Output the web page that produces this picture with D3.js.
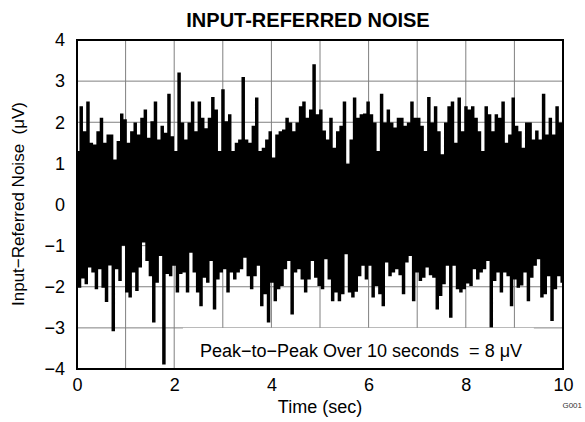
<!DOCTYPE html>
<head>
  <meta charset="utf-8">
  <script src="https://unpkg.com/d3@7/dist/d3.min.js"></script>
  <style>
    body {
      margin:0;
      background:#fff;
    }
    text {
      font-family: "Liberation Sans", Arial, sans-serif;
    }
  </style>
</head>

<body>
  <svg width="585" height="422"></svg>
  <script>
    // upper peaks of the noise trace in order (uV)
    var hiPeaks = [
      1.28, 2.37, 1.76, 2.48, 1.48, 1.44, 1.76, 2.09, 1.48, 1.68, 1.68, 1.07, 1.52, 2.19, 2.05, 1.48,
      1.76, 1.97, 1.68, 2.09, 2.29, 1.60, 2.0, 2.48, 1.56, 1.89, 1.72, 2.67, 1.64, 1.28, 3.19, 1.97,
      1.56, 1.97, 2.48, 1.76, 2.48, 2.09, 1.83, 2.09, 2.59, 2.29, 1.28, 2.78, 2.0, 2.17, 1.28, 1.48,
      1.56, 3.08, 1.56, 1.48, 1.89, 2.58, 1.28, 1.36, 1.56, 1.76, 1.12, 1.68, 1.76, 1.80, 2.09, 1.97,
      1.76, 1.97, 2.37, 2.48, 2.09, 2.29, 3.39, 2.17, 2.29, 1.78, 1.56, 2.09, 1.36, 1.76, 1.89, 2.48,
      0.96, 1.56, 2.58, 2.09, 2.17, 2.19, 2.48, 2.17, 1.97, 1.28, 2.67, 1.97, 2.29, 1.97, 1.85, 2.09,
      2.09, 1.89, 1.97, 2.48, 2.09, 2.09, 1.89, 1.28, 2.59, 1.97, 2.37, 1.76, 1.20, 1.97, 2.37, 2.48,
      1.48, 2.58, 1.76, 2.37, 2.29, 2.37, 2.09, 1.76, 1.28, 2.37, 2.17, 1.76, 2.17, 2.09, 2.48, 1.48,
      1.68, 2.58, 1.89, 1.76, 1.36, 1.97, 1.97, 1.56, 1.78, 1.56, 2.67, 1.68, 2.09, 1.68, 2.37, 1.97
    ];
    // lower peaks, same spacing, half a step later
    var loPeaks = [
      -2.0, -1.78, -1.92, -1.51, -1.63, -2.04, -1.55, -2.0, -2.35, -1.46, -3.06, -1.55, -1.84, -0.98, -2.12, -2.24,
      -1.63, -2.08, -1.51, -0.9, -1.35, -1.72, -2.85, -1.88, -1.23, -3.87, -1.67, -1.72, -1.47, -2.12, -1.67, -1.63,
      -2.12, -1.15, -1.63, -2.12, -2.45, -1.76, -1.88, -1.35, -2.53, -1.80, -1.63, -1.55, -2.12, -1.63, -1.80, -1.63,
      -1.55, -1.27, -1.72, -2.04, -1.72, -1.47, -2.45, -2.16, -2.85, -1.88, -2.33, -2.04, -1.96, -1.55, -1.35, -2.65,
      -1.63, -1.55, -1.80, -2.12, -1.80, -1.35, -1.76, -1.96, -2.04, -1.31, -1.80, -2.33, -2.12, -2.33, -2.16, -1.19,
      -2.12, -2.24, -2.10, -1.72, -1.47, -1.80, -1.47, -2.24, -1.96, -2.16, -2.45, -1.39, -1.72, -1.63, -1.55, -1.70,
      -2.16, -1.39, -1.23, -2.33, -1.63, -1.84, -1.76, -1.51, -1.70, -1.76, -2.53, -2.20, -1.92, -1.47, -2.73, -1.47,
      -2.04, -2.12, -2.04, -1.90, -1.96, -1.55, -1.80, -1.63, -1.55, -1.35, -2.97, -1.84, -1.63, -2.12, -1.63, -1.72,
      -2.45, -1.80, -2.0, -1.95, -1.63, -2.33, -1.76, -1.47, -1.31, -2.24, -2.16, -1.72, -2.81, -2.04, -1.72, -1.88
    ];
    var xTicks = [0, 2, 4, 6, 8, 10];
    var xGrid = [1, 2, 3, 4, 5, 6, 7, 8, 9];
    var yTicks = [-4, -3, -2, -1, 0, 1, 2, 3, 4];
    var note = "Peak\u2212to\u2212Peak Over 10 seconds  = 8 \u03bcV";

    var svg = d3.select("svg");
    var x = d3.scaleLinear().domain([0, 10]).range([77, 563]);
    var y = d3.scaleLinear().domain([-4, 4]).range([369, 40]);

    // gridlines
    svg.selectAll(".vgrid").data(xGrid).enter().append("line")
      .attr("x1", x).attr("x2", x)
      .attr("y1", y(-4)).attr("y2", y(4))
      .attr("stroke", "#808080").attr("stroke-width", 1);
    svg.selectAll(".hgrid").data(yTicks.slice(1, -1)).enter().append("line")
      .attr("x1", x(0)).attr("x2", x(10))
      .attr("y1", y).attr("y2", y)
      .attr("stroke", "#808080").attr("stroke-width", 1);

    // noise trace: alternate upper and lower peaks
    var step = 10 / hiPeaks.length;
    var trace = [];
    hiPeaks.forEach(function (v, i) {
      trace.push({t: (i + 0.25) * step, v: v});
      trace.push({t: (i + 0.75) * step, v: loPeaks[i]});
    });
    var line = d3.line()
      .x(function (d) { return x(d.t); })
      .y(function (d) { return y(d.v); })
      .curve(d3.curveStep);
    svg.append("path")
      .datum(trace)
      .attr("d", line)
      .attr("fill", "none")
      .attr("stroke", "#000")
      .attr("stroke-width", 1.8);

    // note box
    svg.append("rect")
      .attr("x", x(2.18)).attr("y", y(-3))
      .attr("width", x(9.4) - x(2.18))
      .attr("height", y(-4) - y(-3))
      .attr("fill", "#fff");
    svg.append("text")
      .attr("x", x(2.53)).attr("y", 357)
      .attr("font-size", 18)
      .style("white-space", "pre")
      .text(note);

    // frame
    svg.append("rect")
      .attr("x", x(0)).attr("y", y(4))
      .attr("width", x(10) - x(0)).attr("height", y(-4) - y(4))
      .attr("fill", "none").attr("stroke", "#000").attr("stroke-width", 2);

    // axes
    var xAxis = svg.append("g")
      .attr("transform", "translate(0," + y(-4) + ")")
      .call(d3.axisBottom(x).tickValues(xTicks).tickSize(0).tickPadding(9));
    var yAxis = svg.append("g")
      .attr("transform", "translate(" + x(0) + ",0)")
      .call(d3.axisLeft(y).tickValues(yTicks).tickSize(0).tickPadding(12));
    [xAxis, yAxis].forEach(function (g) {
      g.select(".domain").remove();
      g.selectAll("text")
        .attr("font-size", 18)
        .attr("font-family", "Liberation Sans, Arial, sans-serif")
        .attr("fill", "#000");
    });

    svg.append("text")
      .attr("x", 308).attr("y", 27)
      .attr("text-anchor", "middle")
      .attr("font-size", 20).attr("font-weight", "bold")
      .text("INPUT-REFERRED NOISE");
    svg.append("text")
      .attr("x", 320).attr("y", 413)
      .attr("text-anchor", "middle")
      .attr("font-size", 18)
      .text("Time (sec)");
    svg.append("text")
      .attr("transform", "translate(24,204) rotate(-90)")
      .attr("text-anchor", "middle")
      .attr("font-size", 17)
      .style("white-space", "pre")
      .text("Input\u2212Referred Noise  (\u03bcV)");
    svg.append("text")
      .attr("x", 582).attr("y", 408)
      .attr("text-anchor", "end")
      .attr("font-size", 8)
      .attr("fill", "#333")
      .text("G001");
  </script>
</body>
